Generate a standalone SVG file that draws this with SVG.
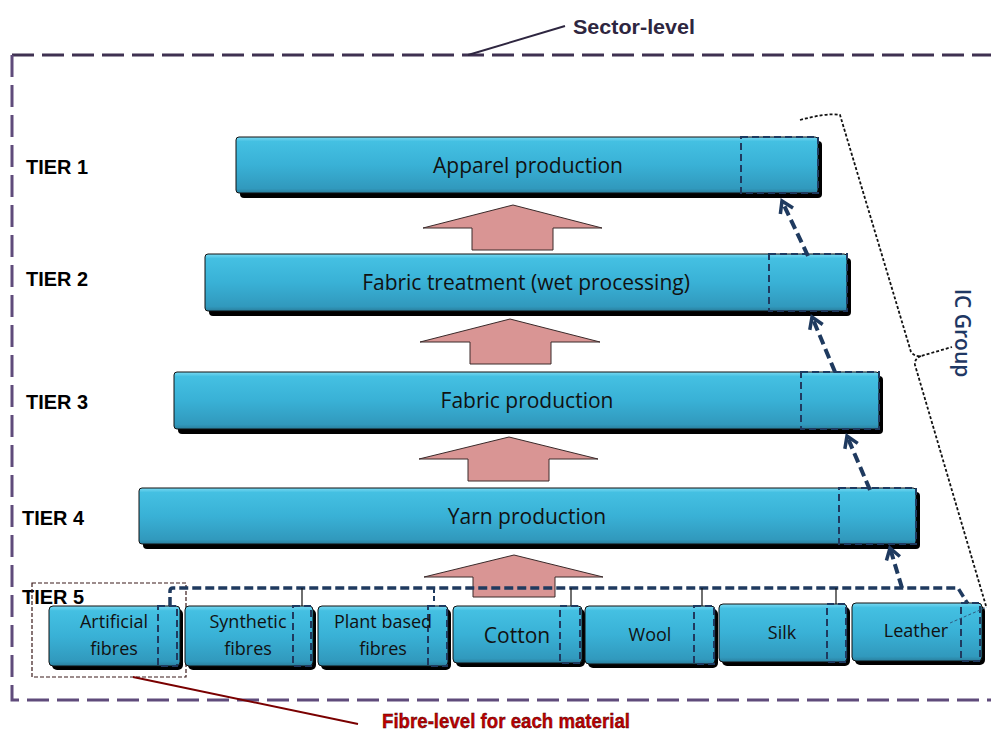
<svg xmlns="http://www.w3.org/2000/svg" width="991" height="731" viewBox="0 0 991 731">
<defs>
<linearGradient id="bar" x1="0" y1="0" x2="0" y2="1">
<stop offset="0" stop-color="#7ad9f2"/>
<stop offset="0.08" stop-color="#44c0e2"/>
<stop offset="0.5" stop-color="#39b1d6"/>
<stop offset="0.92" stop-color="#3199bd"/>
<stop offset="1" stop-color="#2a7f9e"/>
</linearGradient>
<marker id="chev" markerUnits="userSpaceOnUse" markerWidth="20" markerHeight="20" refX="0" refY="0" viewBox="-14 -10 16 20" orient="auto" overflow="visible">
<path d="M-11,-7 L0,0 L-11,7" fill="none" stroke="#1f3a5f" stroke-width="3.5"/>
</marker>
<style>
.shadow{fill:#000}
.bar{fill:url(#bar);stroke:#111;stroke-width:1}
.sub{fill:none;stroke:#1f3a5f;stroke-width:2;stroke-dasharray:7 4}
.lbl{font-family:"Open Sans","Liberation Sans",sans-serif;font-size:21px;fill:#111;text-anchor:middle}
.flbl{font-family:"Open Sans","Liberation Sans",sans-serif;font-size:18px;fill:#111;text-anchor:middle}
.tier{font-family:"Liberation Sans",Arial,sans-serif;font-weight:bold;font-size:21px;fill:#000}
.parrow{fill:#d99594;stroke:#3a2a2a;stroke-width:1}
.darr{fill:none;stroke:#1f3a5f;stroke-width:4;stroke-dasharray:10 5;marker-end:url(#chev)}
.tick{stroke:#111;stroke-width:1.2;fill:none}
</style>
</defs>

<!-- Sector boundary -->
<g id="sector">
<path d="M12,55 L1000,55" stroke="#3f3151" stroke-width="3" stroke-dasharray="22 8" fill="none"/>
<path d="M12,55 L12,700 L1000,700" stroke="#5f4b7b" stroke-width="3" stroke-dasharray="22 8" fill="none"/>
<path d="M468,55 L565,26" stroke="#2e2640" stroke-width="2" fill="none"/>
<text x="634" y="34" font-family="Liberation Sans,Arial,sans-serif" font-weight="bold" font-size="21" fill="#2e2640" text-anchor="middle" textLength="122" lengthAdjust="spacingAndGlyphs">Sector-level</text>
</g>

<!-- Tier labels -->
<g id="tier-labels">
<text class="tier" x="26" y="174" textLength="62" lengthAdjust="spacingAndGlyphs">TIER 1</text>
<text class="tier" x="26" y="286" textLength="62" lengthAdjust="spacingAndGlyphs">TIER 2</text>
<text class="tier" x="26" y="409" textLength="62" lengthAdjust="spacingAndGlyphs">TIER 3</text>
<text class="tier" x="22" y="525" textLength="62" lengthAdjust="spacingAndGlyphs">TIER 4</text>
<text class="tier" x="22" y="604" textLength="62" lengthAdjust="spacingAndGlyphs">TIER 5</text>
</g>

<!-- Pink arrows -->
<g id="flow-arrows">
<polygon class="parrow" points="513,205 602,228 553,228 553,250 472,250 472,228 423,228"/>
<polygon class="parrow" points="510,319 600,342 551,342 551,364 470,364 470,342 420,342"/>
<polygon class="parrow" points="509,437 598,459 549,459 549,481 468,481 468,459 419,459"/>
<polygon class="parrow" points="514,555 603,577 555,577 555,597 473,597 473,577 424,577"/>
</g>

<!-- Tier bars -->
<g id="tier1">
<rect class="shadow" x="240" y="141" width="582" height="57" rx="4"/>
<rect class="bar" x="236" y="137" width="582" height="56" rx="3"/>
<rect class="sub" x="741" y="137" width="77" height="56"/>
<text class="lbl" x="528" y="173">Apparel production</text>
</g>
<g id="tier2">
<rect class="shadow" x="209" y="258" width="642" height="58" rx="4"/>
<rect class="bar" x="205" y="254" width="642" height="57" rx="3"/>
<rect class="sub" x="769" y="254" width="78" height="57"/>
<text class="lbl" x="526" y="290">Fabric treatment (wet processing)</text>
</g>
<g id="tier3">
<rect class="shadow" x="178" y="376" width="705" height="58" rx="4"/>
<rect class="bar" x="174" y="372" width="705" height="57" rx="3"/>
<rect class="sub" x="801" y="372" width="78" height="57"/>
<text class="lbl" x="527" y="408">Fabric production</text>
</g>
<g id="tier4">
<rect class="shadow" x="143" y="492" width="777" height="57" rx="4"/>
<rect class="bar" x="139" y="488" width="777" height="56" rx="3"/>
<rect class="sub" x="839" y="488" width="77" height="56"/>
<text class="lbl" x="527" y="524">Yarn production</text>
</g>

<!-- Fibre level box -->
<g id="fibre-level">
<rect x="32" y="583" width="154" height="94" fill="none" stroke="#3a1a1a" stroke-width="1.2" stroke-dasharray="4 2"/>
<path d="M133,677 L358,724" stroke="#7a0000" stroke-width="2" fill="none"/>
<text x="506" y="728" font-family="Liberation Sans,Arial,sans-serif" font-weight="bold" font-size="21" fill="#c00000" stroke="#400000" stroke-width="0.4" text-anchor="middle" textLength="248" lengthAdjust="spacingAndGlyphs">Fibre-level for each material</text>
</g>

<!-- Connectors -->
<g id="connectors">
<path d="M170,606 L170,591 Q170,588 173,588 L958,588 L968,604" fill="none" stroke="#1f3a5f" stroke-width="3.5" stroke-dasharray="9 4"/>
<path class="tick" d="M302,588 V606 M571,588 V606 M702,588 V606 M836,588 V604"/>
<path d="M434,588 V604" stroke="#1f3a5f" stroke-width="2" stroke-dasharray="5 3"/>
<path class="darr" d="M902,588 L890,548"/>
<path class="darr" d="M870,490 L847,436"/>
<path class="darr" d="M835,372 L812,317"/>
<path class="darr" d="M808,256 L782,201"/>
</g>

<!-- Fibre boxes -->
<g id="artificial">
<rect class="shadow" x="52" y="609" width="131" height="61" rx="5"/>
<rect class="bar" x="49" y="606" width="131" height="60" rx="4"/>
<rect class="sub" x="158" y="606" width="19" height="60"/>
<text class="flbl" x="114" y="628">Artificial</text>
<text class="flbl" x="114" y="655">fibres</text>
</g>
<g id="synthetic">
<rect class="shadow" x="188" y="609" width="128" height="61" rx="5"/>
<rect class="bar" x="185" y="606" width="128" height="60" rx="4"/>
<rect class="sub" x="293" y="606" width="18" height="60"/>
<text class="flbl" x="248" y="628">Synthetic</text>
<text class="flbl" x="248" y="655">fibres</text>
</g>
<g id="plant">
<rect class="shadow" x="321" y="609" width="130" height="61" rx="5"/>
<rect class="bar" x="318" y="606" width="130" height="60" rx="4"/>
<rect class="sub" x="428" y="606" width="19" height="60"/>
<text class="flbl" x="383" y="628">Plant based</text>
<text class="flbl" x="383" y="655">fibres</text>
</g>
<g id="cotton">
<rect class="shadow" x="456" y="609" width="129" height="58" rx="5"/>
<rect class="bar" x="453" y="606" width="129" height="57" rx="4"/>
<rect class="sub" x="560" y="606" width="20" height="57"/>
<text class="lbl" x="517" y="643">Cotton</text>
</g>
<g id="wool">
<rect class="shadow" x="588" y="609" width="130" height="59" rx="5"/>
<rect class="bar" x="585" y="606" width="130" height="58" rx="4"/>
<rect class="sub" x="694" y="606" width="20" height="58"/>
<text class="flbl" x="650" y="641">Wool</text>
</g>
<g id="silk">
<rect class="shadow" x="722" y="607" width="128" height="59" rx="5"/>
<rect class="bar" x="719" y="604" width="128" height="58" rx="4"/>
<rect class="sub" x="827" y="604" width="19" height="58"/>
<text class="flbl" x="782" y="639">Silk</text>
</g>
<g id="leather">
<rect class="shadow" x="855" y="606" width="130" height="59" rx="5"/>
<rect class="bar" x="852" y="603" width="130" height="58" rx="4"/>
<rect class="sub" x="961" y="603" width="19" height="58"/>
<text class="flbl" x="916" y="637">Leather</text>
<path d="M950,623 L987,607" stroke="#2f5a80" stroke-width="1" stroke-dasharray="3 2" fill="none"/>
</g>

<!-- IC Group bracket -->
<g id="ic-group">
<path d="M800,120 C815,116 830,113 840,115 L911,352 Q915,357 921,356 L952,347 M921,356 Q914,359 915,365 L986,606" fill="none" stroke="#111" stroke-width="1.8" stroke-dasharray="3 2"/>
<text transform="translate(955,333) rotate(90)" font-family="Open Sans,Liberation Sans,sans-serif" font-weight="600" font-size="21" fill="#1f3864" text-anchor="middle">IC Group</text>
</g>
</svg>
